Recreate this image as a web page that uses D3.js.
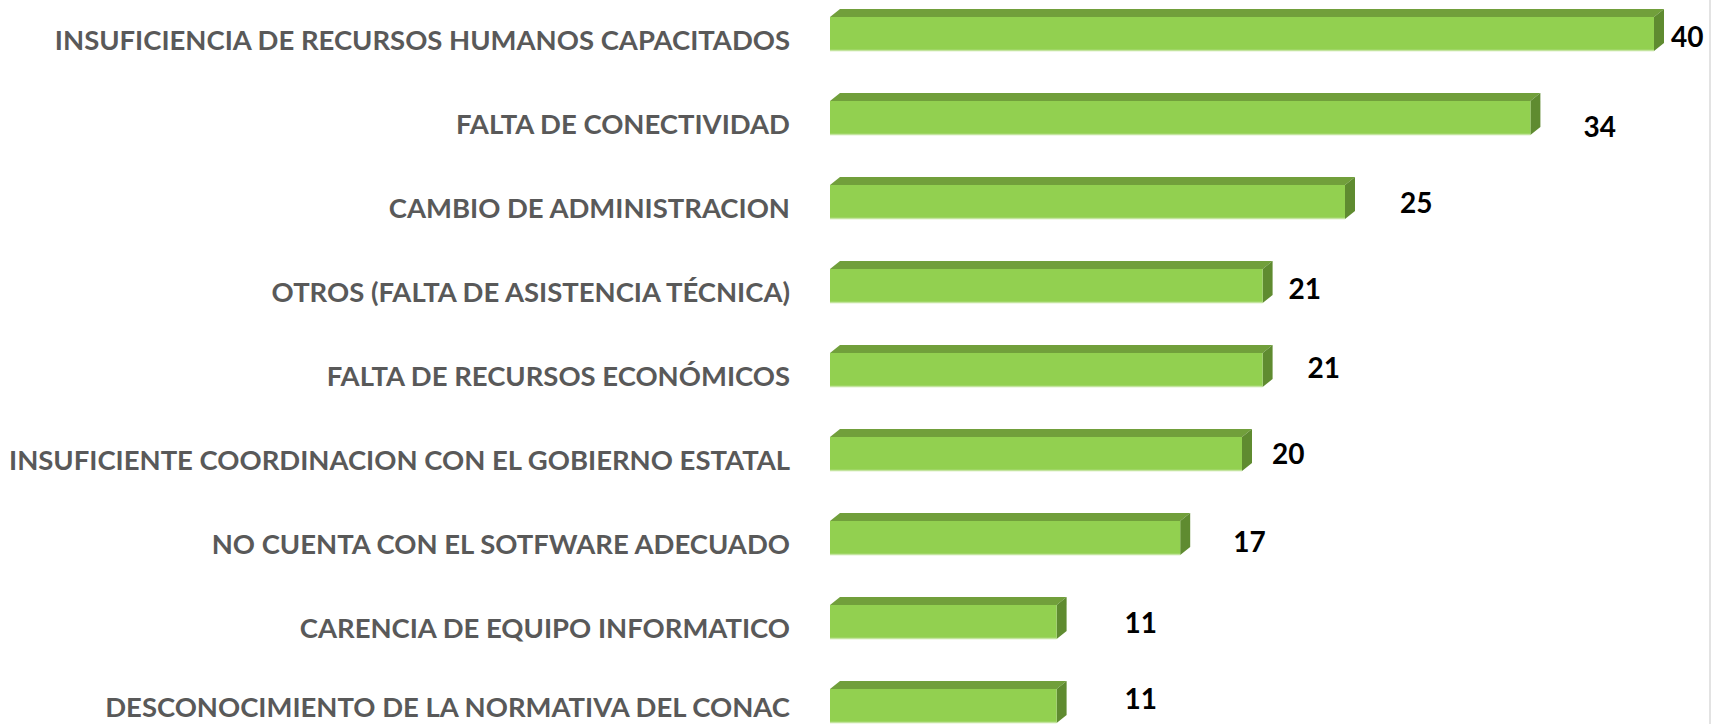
<!DOCTYPE html>
<html>
<head>
<meta charset="utf-8">
<script src="https://cdn.jsdelivr.net/npm/d3@7"></script>
<style>
    body { margin: 0; background: #fff; }
    svg { display: block; }
    .cat { font-family: Lato, "Open Sans", sans-serif; font-weight: 700; fill: #595959; }
    .val { font-family: Lato, "Open Sans", sans-serif; font-weight: 700; fill: #000; }
</style>
</head>
<body>
<svg id="chart"></svg>
<script>
// Categories, top to bottom
const categories = [
    "INSUFICIENCIA DE RECURSOS HUMANOS CAPACITADOS",
    "FALTA DE CONECTIVIDAD",
    "CAMBIO DE ADMINISTRACION",
    "OTROS (FALTA DE ASISTENCIA TÉCNICA)",
    "FALTA DE RECURSOS ECONÓMICOS",
    "INSUFICIENTE COORDINACION CON EL GOBIERNO ESTATAL",
    "NO CUENTA CON EL SOTFWARE ADECUADO",
    "CARENCIA DE EQUIPO INFORMATICO",
    "DESCONOCIMIENTO DE LA NORMATIVA DEL CONAC"
];
const values = [40, 34, 25, 21, 21, 20, 17, 11, 11];

// hand-placed data labels (offset from bar end / bar centre)
const labelDx = [17, 53, 55, 26, 45, 30, 53, 68, 68];
const labelDy = [3, 9, 1, 3, -2, 0, 4, 1, -7];

const width = 1715, height = 724;
const margin = {left: 830, right: 61};
const depth = {x: 10, y: 8};   // fake 3D offset

const svg = d3.select('#chart')
    .attr("width", width)
    .attr("height", height);

// X Scale
const xScale = d3.scaleLinear()
    .domain([0, 40])
    .range([margin.left, width - margin.right]);

// Y Scale
const yScale = d3.scaleBand()
    .domain(categories)
    .range([-8, 748])
    .paddingInner(0.595)
    .paddingOuter(0.2975);

const bw = yScale.bandwidth();

// right border line
svg.append("line")
    .attr("x1", width - 5).attr("x2", width - 5)
    .attr("y1", 0).attr("y2", height)
    .attr("stroke", "#e3e3e3")
    .attr("stroke-width", 2);

const bars = svg.selectAll("g.bar")
    .data(categories.map((c, i) => ({cat: c, value: values[i], i: i})))
    .join("g")
    .attr("class", "bar");

// top face
bars.append("path")
    .attr("fill", "#719f3b")
    .attr("d", d => {
        const x0 = xScale(0), x1 = xScale(d.value), y = yScale(d.cat);
        return `M${x0},${y}L${x0 + depth.x},${y - depth.y}L${x1 + depth.x},${y - depth.y}L${x1},${y}Z`;
    });

// side face
bars.append("path")
    .attr("fill", "#5f8b30")
    .attr("d", d => {
        const x1 = xScale(d.value), y = yScale(d.cat);
        return `M${x1},${y}L${x1 + depth.x},${y - depth.y}L${x1 + depth.x},${y + bw - depth.y}L${x1},${y + bw}Z`;
    });

// front face
bars.append("rect")
    .attr("x", xScale(0))
    .attr("y", d => yScale(d.cat))
    .attr("width", d => xScale(d.value) - xScale(0))
    .attr("height", bw)
    .attr("fill", "#92d050");

// light bottom edge
bars.append("line")
    .attr("x1", xScale(0))
    .attr("x2", d => xScale(d.value))
    .attr("y1", d => yScale(d.cat) + bw - 0.5)
    .attr("y2", d => yScale(d.cat) + bw - 0.5)
    .attr("stroke", "#c3e49e")
    .attr("stroke-width", 1.5);

// category labels (kept inside the bottom edge)
const cats = svg.selectAll("text.cat")
    .data(categories)
    .join("text")
    .attr("class", "cat")
    .attr("x", 790)
    .attr("y", d => Math.min(yScale(d) + bw / 2 + 6, height - 17))
    .attr("dy", "0.36em")
    .attr("text-anchor", "end")
    .style("font-size", "27px")
    .text(d => d);

// squeeze to the reference width (widest label ~781px)
let widest = 0;
cats.each(function() { widest = Math.max(widest, this.getComputedTextLength()); });
const k = 781 / widest;
cats.each(function() {
    d3.select(this)
        .attr("textLength", this.getComputedTextLength() * k)
        .attr("lengthAdjust", "spacingAndGlyphs");
});

// value labels
svg.selectAll("text.val")
    .data(values)
    .join("text")
    .attr("class", "val")
    .attr("x", (d, i) => xScale(d) + labelDx[i])
    .attr("y", (d, i) => yScale(categories[i]) + bw / 2 + labelDy[i])
    .attr("dy", "0.36em")
    .style("font-size", "28px")
    .text(d => d);
</script>
</body>
</html>
